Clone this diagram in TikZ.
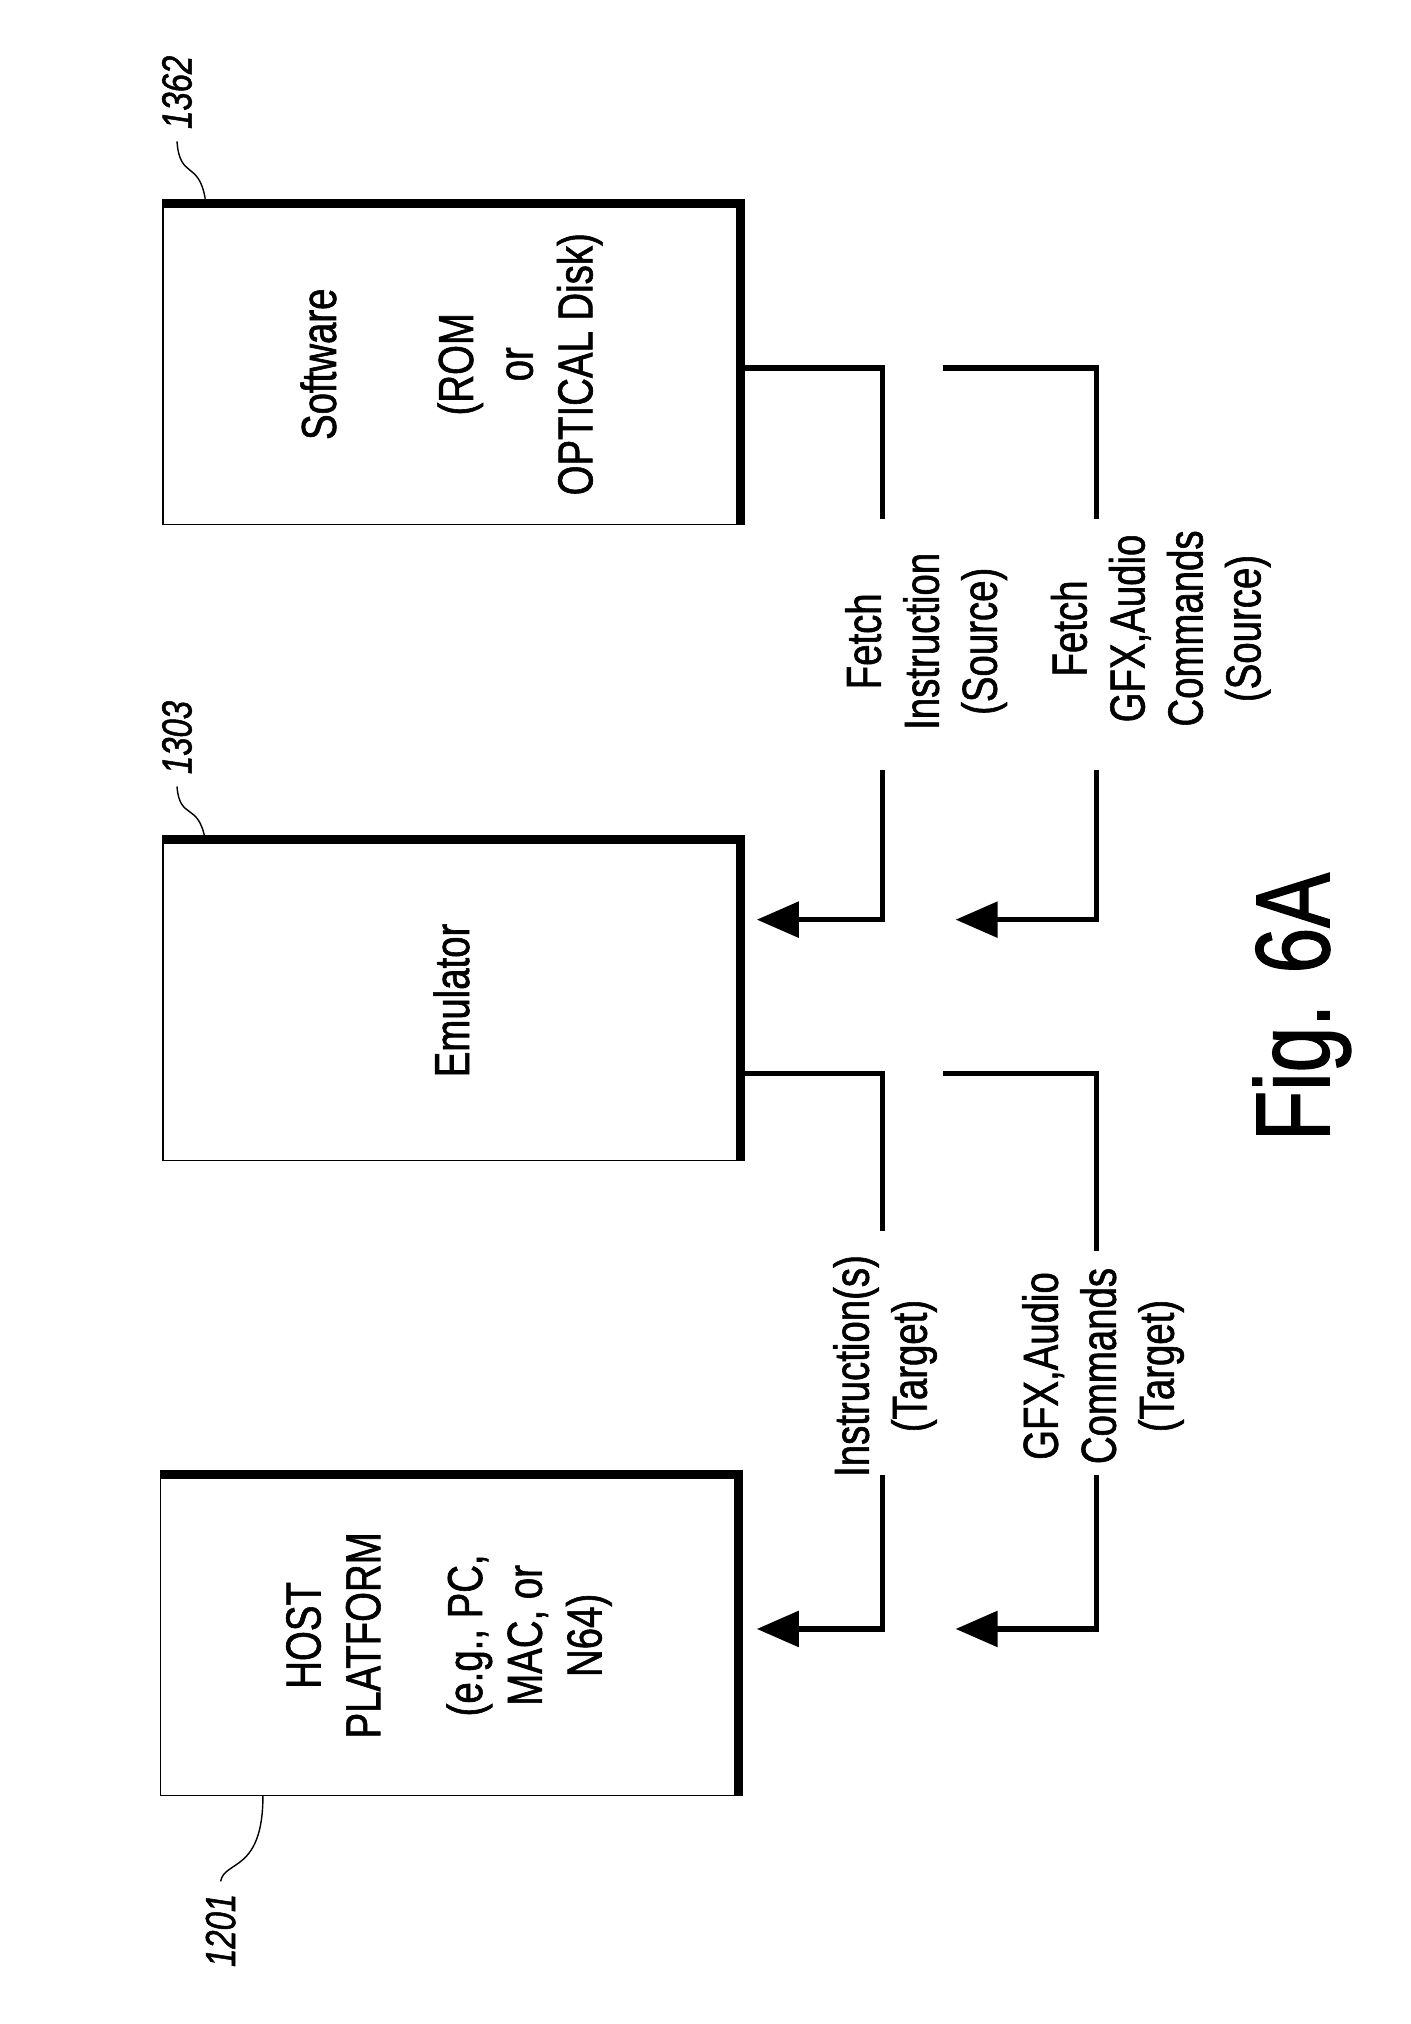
\documentclass[tikz,border=0pt]{standalone}
\usepackage{fontspec}
\setmainfont{Liberation Sans}[FakeStretch=0.78, FakeBold=1.2]
\usetikzlibrary{arrows.meta,positioning}
\tikzset{
  box/.style={draw, thin, minimum width=4.5*1.283cm, minimum height=2.5*1.283cm, inner sep=0pt},
  shade/.style={line width=2.6pt},
  lbl/.style={rotate=90, align=center, font=\fontsize{14}{16.5}\selectfont, inner sep=1pt},
  txt/.style={rotate=90, align=center, font=\fontsize{14}{17}\selectfont},
  refno/.style={rotate=90, font=\itshape\fontsize{12}{14}\selectfont},
  bus/.style={line width=1.6pt},
  arr/.style={bus, -{Triangle[length=12pt,width=10pt]}}
}
\begin{document}
\begin{tikzpicture}[x=0.01283cm, y=-0.01283cm]
\useasboundingbox (0,0) rectangle (1100,1578);
% boxes
\node[box] (sw) at (352,284) {};
\node[box] (em) at (352,780) {};
\node[box] (hp) at (350,1275) {};
\foreach \b in {sw,em,hp}
  \draw[shade] (\b.north west) -- (\b.north east) -- (\b.south east);
\node[txt] at (sw.center) {Software\\[22pt](ROM\\or\\OPTICAL Disk)};
\node[txt] at (em.center) {Emulator};
\node[txt] at (hp.center) {HOST\\PLATFORM\\[12pt](e.g., PC,\\MAC, or\\N64)};
% reference numbers
\node[refno] (n1362) at (138,72) {1362};
\node[refno] (n1303) at (138,575) {1303};
\node[refno] (n1201) at (172,1505) {1201};
\draw (n1362.west) .. controls (140,140) and (155,125) .. (160,155);
\draw (n1303.west) .. controls (140,640) and (155,625) .. (160,655);
\draw (n1201.east) .. controls (175,1450) and (205,1460) .. (205,1400);
% software -> emulator
\coordinate (a1) at (688,405); \coordinate (a2) at (688,600);
\coordinate (b0) at (735,287); \coordinate (b1) at (855,405); \coordinate (b2) at (855,600);
\draw[bus] (sw.east |- 0,287) -| (a1);
\draw[arr] (a2) |- (590,717);
\draw[bus] (b0) -| (b1);
\draw[arr] (b2) |- (745,717);
\node[lbl] (fi) at (722,500) {Fetch\\Instruction\\(Source)};
\node[lbl] (fg) at (905,490) {Fetch\\GFX,Audio\\Commands\\(Source)};
% emulator -> host
\coordinate (c1) at (688,960); \coordinate (c2) at (688,1150);
\coordinate (d0) at (735,837); \coordinate (d1) at (855,975); \coordinate (d2) at (855,1150);
\draw[bus] (em.east |- 0,837) -| (c1);
\draw[arr] (c2) |- (590,1270);
\draw[bus] (d0) -| (d1);
\draw[arr] (d2) |- (745,1270);
\node[lbl] (it) at (690,1065) {Instruction(s)\\(Target)};
\node[lbl] (gt) at (860,1065) {GFX,Audio\\Commands\\(Target)};
% caption
\node[rotate=90, font=\fontsize{30}{36}\selectfont] (fig) at (1015,785) {Fig. 6A};
\end{tikzpicture}
\end{document}
